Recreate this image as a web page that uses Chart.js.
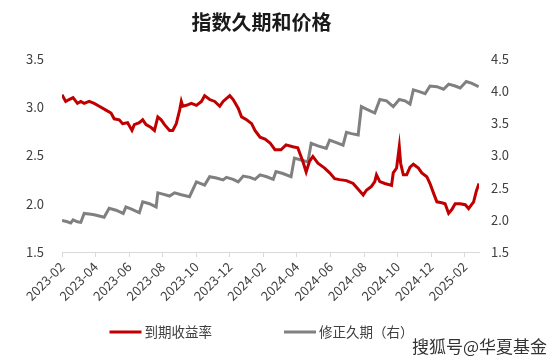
<!DOCTYPE html>
<html>
<head>
<meta charset="utf-8">
<script src="https://cdn.jsdelivr.net/npm/chart.js@4/dist/chart.umd.min.js"></script>
<style>
  html, body { margin: 0; padding: 0; background: #ffffff; }
  #wrap { position: relative; width: 552px; height: 360px; }
  #wm { position: absolute; left: 412px; top: 333px; font: 17px "Noto Sans CJK SC", sans-serif; color: #333333; text-shadow: 0 0 2px #fff, 0 0 2px #fff; white-space: nowrap; }
</style>
</head>
<body>
<div id="wrap">
  <canvas id="c" width="552" height="360"></canvas>
  <div id="wm">搜狐号@华夏基金</div>
</div>
<script>
// months since 2023-02 (x) and values
const yieldMonths = [0, 0.22, 0.42, 0.66, 0.92, 1.12, 1.32, 1.62, 1.92, 2.22, 2.62, 2.92, 3.11, 3.41, 3.61, 3.91, 4.17, 4.31, 4.61, 4.81, 5.01, 5.31, 5.51, 5.71, 5.91, 6.11, 6.41, 6.60, 6.81, 7.01, 7.11, 7.20, 7.41, 7.71, 8.01, 8.31, 8.50, 8.80, 9.10, 9.40, 9.60, 10.00, 10.20, 10.50, 10.70, 11.00, 11.30, 11.50, 11.80, 12.10, 12.40, 12.69, 13.05, 13.35, 13.75, 14.05, 14.35, 14.55, 14.75, 14.95, 15.25, 15.65, 15.95, 16.25, 16.54, 16.95, 17.35, 17.65, 17.95, 18.14, 18.44, 18.64, 18.74, 18.94, 19.24, 19.64, 19.74, 19.94, 20.10, 20.18, 20.34, 20.54, 20.74, 20.94, 21.24, 21.44, 21.74, 21.93, 22.14, 22.34, 22.63, 22.83, 23.04, 23.23, 23.43, 23.73, 24.03, 24.23, 24.53, 24.69, 24.85];
const yieldValues = [3.13, 3.06, 3.08, 3.10, 3.04, 3.06, 3.04, 3.06, 3.04, 3.01, 2.97, 2.94, 2.88, 2.87, 2.83, 2.84, 2.76, 2.82, 2.84, 2.87, 2.82, 2.79, 2.76, 2.90, 2.87, 2.82, 2.76, 2.76, 2.83, 2.97, 3.06, 3.01, 3.02, 3.04, 3.02, 3.06, 3.12, 3.08, 3.06, 3.01, 3.06, 3.12, 3.08, 2.99, 2.90, 2.87, 2.83, 2.76, 2.69, 2.67, 2.63, 2.56, 2.56, 2.61, 2.59, 2.58, 2.44, 2.33, 2.44, 2.49, 2.42, 2.37, 2.32, 2.26, 2.25, 2.24, 2.21, 2.15, 2.09, 2.14, 2.18, 2.23, 2.30, 2.23, 2.21, 2.19, 2.32, 2.37, 2.59, 2.42, 2.30, 2.30, 2.38, 2.41, 2.37, 2.32, 2.28, 2.21, 2.11, 2.02, 2.01, 2.00, 1.90, 1.94, 2.00, 2.00, 1.99, 1.95, 2.02, 2.13, 2.21];
const durationMonths = [0, 0.32, 0.52, 0.66, 0.92, 1.12, 1.32, 1.62, 1.92, 2.22, 2.51, 2.81, 3.22, 3.65, 3.81, 4.21, 4.61, 4.81, 5.21, 5.61, 5.71, 6.01, 6.41, 6.71, 7.11, 7.60, 8.01, 8.50, 8.80, 9.20, 9.60, 9.80, 10.20, 10.50, 10.80, 11.20, 11.50, 11.80, 12.20, 12.59, 12.75, 13.16, 13.65, 13.85, 14.25, 14.65, 14.85, 15.25, 15.75, 15.95, 16.35, 16.75, 16.95, 17.25, 17.65, 17.84, 18.14, 18.64, 18.94, 19.34, 19.74, 20.10, 20.44, 20.74, 20.94, 21.34, 21.64, 21.93, 22.34, 22.74, 23.04, 23.43, 23.73, 24.09, 24.43, 24.83];
const durationValues = [1.99, 1.97, 1.95, 2.00, 1.97, 1.96, 2.10, 2.09, 2.08, 2.06, 2.04, 2.18, 2.15, 2.10, 2.20, 2.16, 2.11, 2.28, 2.25, 2.20, 2.42, 2.40, 2.37, 2.42, 2.39, 2.36, 2.59, 2.54, 2.67, 2.65, 2.62, 2.66, 2.63, 2.59, 2.68, 2.66, 2.63, 2.70, 2.67, 2.63, 2.75, 2.72, 2.67, 2.96, 2.93, 2.90, 3.19, 3.15, 3.11, 3.24, 3.20, 3.16, 3.36, 3.34, 3.32, 3.76, 3.72, 3.66, 3.87, 3.85, 3.76, 3.87, 3.85, 3.80, 4.02, 3.99, 3.96, 4.08, 4.07, 4.03, 4.11, 4.08, 4.05, 4.15, 4.12, 4.07];
const seriesNames = ['到期收益率', '修正久期（右）'];
const titleText = '指数久期和价格';
const startYear = 2023, startMonth = 2; // x = 0 corresponds to 2023-02

function monthLabel(m) {
  const idx = (startMonth - 1) + Math.round(m);
  const y = startYear + Math.floor(idx / 12);
  const mo = (idx % 12) + 1;
  return y + '-' + (mo < 10 ? '0' + mo : mo);
}

const FONT = '"Noto Sans CJK SC", "Noto Sans", sans-serif';
const TXT = '#404040';
const RIGHT_PAD = 29;

// legend drawn under the x labels, items spaced like the reference
const bottomLegend = {
  id: 'bottomLegend',
  afterDraw(chart) {
    const ctx = chart.ctx;
    ctx.save();
    ctx.font = '13.5px ' + FONT;
    const lineW = 32, gapT = 3, gapI = 72, y = 332;
    const items = chart.data.datasets.map(d => ({ text: d.label, color: d.borderColor, lw: d.borderWidth }));
    const widths = items.map(it => lineW + gapT + ctx.measureText(it.text).width);
    const total = widths.reduce((a, b) => a + b, 0) + gapI * (items.length - 1);
    let x = (chart.width - RIGHT_PAD) / 2 - total / 2;
    items.forEach((it, i) => {
      ctx.strokeStyle = it.color;
      ctx.lineWidth = it.lw;
      ctx.lineCap = 'butt';
      ctx.beginPath();
      ctx.moveTo(x, y);
      ctx.lineTo(x + lineW, y);
      ctx.stroke();
      ctx.fillStyle = TXT;
      ctx.textAlign = 'left';
      ctx.textBaseline = 'middle';
      ctx.fillText(it.text, x + lineW + gapT, y);
      x += widths[i] + gapI;
    });
    ctx.restore();
  }
};

new Chart(document.getElementById('c'), {
  type: 'line',
  data: {
    datasets: [
      {
        label: seriesNames[0],
        data: yieldMonths.map((m, i) => ({ x: m, y: yieldValues[i] })),
        borderColor: '#C00000', backgroundColor: '#C00000',
        borderWidth: 3, pointRadius: 0, tension: 0, yAxisID: 'y', order: 0
      },
      {
        label: seriesNames[1],
        data: durationMonths.map((m, i) => ({ x: m, y: durationValues[i] })),
        borderColor: '#808080', backgroundColor: '#808080',
        borderWidth: 3, pointRadius: 0, tension: 0, yAxisID: 'y1', order: 1
      }
    ]
  },
  plugins: [bottomLegend],
  options: {
    responsive: false,
    animation: false,
    layout: { padding: { left: 0, right: RIGHT_PAD, top: 0, bottom: 48 } },
    plugins: {
      title: {
        display: true, text: titleText, color: '#1a1a1a',
        font: { family: FONT, size: 20, weight: 'bold', lineHeight: 1.2 },
        padding: { top: 10, bottom: 25 }
      },
      legend: { display: false },
      tooltip: { enabled: false }
    },
    scales: {
      x: {
        type: 'linear', min: 0, max: 24.85,
        afterFit: (s) => { s.height = 60; },
        border: { display: true, color: '#d9d9d9', width: 1 },
        grid: { display: true, drawOnChartArea: false, drawTicks: true, tickLength: 5, color: '#d9d9d9' },
        ticks: {
          stepSize: 2, includeBounds: false, autoSkip: false,
          minRotation: 45, maxRotation: 45, padding: 2,
          color: TXT, font: { family: FONT, size: 13 },
          callback: (v) => (Math.abs(v - Math.round(v)) < 1e-6 && Math.round(v) % 2 === 0) ? monthLabel(v) : ''
        }
      },
      y: {
        position: 'left', min: 1.5, max: 3.5,
        afterFit: (s) => { s.width = 62; },
        border: { display: false },
        grid: { display: false, drawTicks: false },
        ticks: { stepSize: 0.5, padding: 18, color: TXT, font: { family: FONT, size: 13 }, callback: (v) => v.toFixed(1) }
      },
      y1: {
        position: 'right', min: 1.5, max: 4.5,
        afterFit: (s) => { s.width = 44; },
        border: { display: false },
        grid: { display: false, drawTicks: false },
        ticks: { stepSize: 0.5, padding: 12, color: TXT, font: { family: FONT, size: 13 }, callback: (v) => v.toFixed(1) }
      }
    }
  }
});
</script>
</body>
</html>
